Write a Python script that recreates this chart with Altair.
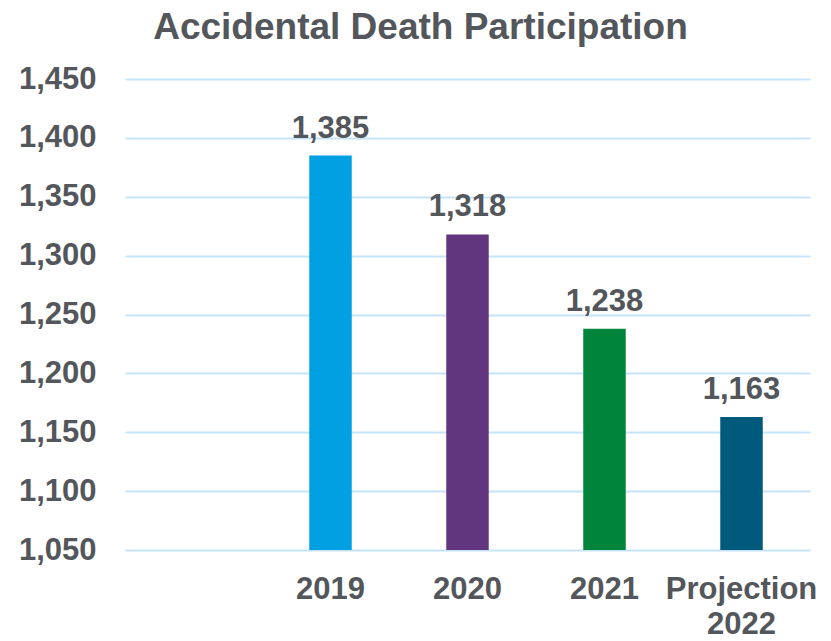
import altair as alt
import pandas as pd

categories = ["2019", "2020", "2021", "Projection 2022"]
values = [1385, 1318, 1238, 1163]
colors = ["#00A0E2", "#62367F", "#00833A", "#005A7C"]
domain_x = [""] + categories
y_ticks = [1050, 1100, 1150, 1200, 1250, 1300, 1350, 1400, 1450]

df = pd.DataFrame({"cat": categories, "val": values, "color": colors})

TXT = "#53565A"
FONT = "Liberation Sans"

x_axis = alt.Axis(title=None, labelAngle=0, domain=False, ticks=False, grid=False,
                  labelFont=FONT, labelFontSize=31, labelFontWeight="bold",
                  labelColor=TXT, labelPadding=24, labelLineHeight=35,
                  labelExpr="datum.value == 'Projection 2022' ? ['Projection', '2022'] : datum.value")
y_axis = alt.Axis(title=None, values=y_ticks, format=",.0f",
                  domain=False, ticks=False, grid=True, gridColor="#C5E3F7",
                  gridWidth=2, labelFont=FONT, labelFontSize=31,
                  labelFontWeight="bold", labelColor=TXT, labelPadding=29)
x_scale = alt.Scale(domain=domain_x, paddingInner=0.69, paddingOuter=0.345)
y_scale = alt.Scale(domain=[1050, 1450], zero=False, nice=False)

base = alt.Chart(df)

bars = base.mark_bar().encode(
    x=alt.X("cat:N", scale=x_scale, sort=domain_x, axis=x_axis),
    y=alt.Y("val:Q", scale=y_scale, axis=y_axis),
    y2=alt.datum(1050),
    color=alt.Color("color:N", scale=None),
)

labels = base.mark_text(font=FONT, fontSize=31, fontWeight="bold", color=TXT,
                        baseline="alphabetic", dy=-18).encode(
    x=alt.X("cat:N", scale=x_scale, sort=domain_x, axis=x_axis),
    y=alt.Y("val:Q", scale=y_scale, axis=y_axis),
    text=alt.Text("val:Q", format=","),
)

chart = (bars + labels).properties(
    width=685, height=471,
    title=alt.TitleParams("Accidental Death Participation", font=FONT, fontSize=37,
                          fontWeight="bold", color=TXT, anchor="middle", dx=-47, offset=16),
    autosize=alt.AutoSizeParams(type="none"),
    padding={"left": 117, "top": 71, "right": 13, "bottom": 89},
).configure_view(stroke=None)

chart.save("out.html", embed_options={"renderer": "svg", "actions": False})
